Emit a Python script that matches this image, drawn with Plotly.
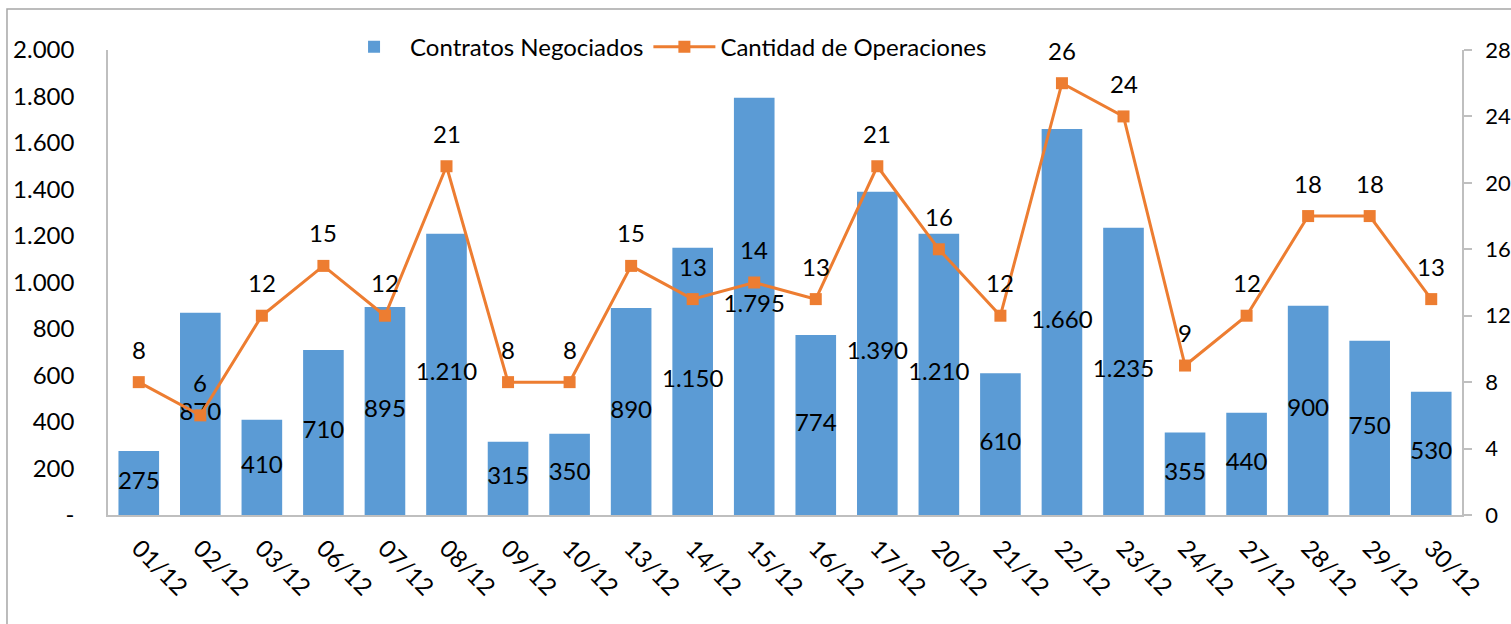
import plotly.graph_objects as go

categories = ["01/12", "02/12", "03/12", "06/12", "07/12", "08/12", "09/12", "10/12",
              "13/12", "14/12", "15/12", "16/12", "17/12", "20/12", "21/12", "22/12",
              "23/12", "24/12", "27/12", "28/12", "29/12", "30/12"]
contratos = [275, 870, 410, 710, 895, 1210, 315, 350, 890, 1150, 1795, 774,
             1390, 1210, 610, 1660, 1235, 355, 440, 900, 750, 530]
operaciones = [8, 6, 12, 15, 12, 21, 8, 8, 15, 13, 14, 13,
               21, 16, 12, 26, 24, 9, 12, 18, 18, 13]
left_ticks = [0, 200, 400, 600, 800, 1000, 1200, 1400, 1600, 1800, 2000]
left_ticktext = ["-", "200", "400", "600", "800", "1.000", "1.200", "1.400", "1.600", "1.800", "2.000"]
right_ticks = [0, 4, 8, 12, 16, 20, 24, 28]

FONT = "Lato, 'Noto Sans', sans-serif"
FS = 24
BLUE = "#5B9BD5"
ORANGE = "#ED7D31"
AXIS = "#BFBFBF"

fig = go.Figure()
fig.add_trace(go.Bar(
    x=categories, y=contratos, name="Contratos Negociados",
    marker=dict(color=BLUE, line=dict(width=0)), yaxis="y",
))
fig.add_trace(go.Scatter(
    x=categories, y=operaciones, name="Cantidad de Operaciones",
    mode="lines+markers", yaxis="y2",
    line=dict(color=ORANGE, width=3),
    marker=dict(symbol="square", size=12, color=ORANGE),
))
# bar value labels, centred in each bar
fig.add_trace(go.Scatter(
    x=categories, y=[v / 2 for v in contratos], yaxis="y",
    mode="text", text=[f"{v:,}".replace(",", ".") for v in contratos],
    textposition="middle center", textfont=dict(family=FONT, size=FS, color="black"),
    showlegend=False, hoverinfo="skip",
))

annotations = []
for c, v in zip(categories, operaciones):
    annotations.append(dict(
        x=c, y=v, xref="x", yref="y2", text=str(v), showarrow=False,
        yshift=33, font=dict(family=FONT, size=FS, color="black"),
    ))

fig.update_layout(
    width=1511, height=624,
    margin=dict(l=108, r=49, t=50, b=109, autoexpand=False),
    paper_bgcolor="white", plot_bgcolor="white",
    font=dict(family=FONT, size=FS, color="black"),
    bargap=0.34,
    showlegend=True,
    legend=dict(orientation="h", x=0.1699, y=1.006, xanchor="left", yanchor="middle",
                bgcolor="rgba(0,0,0,0)", font=dict(family=FONT, size=FS),
                itemwidth=62, tracegroupgap=0),
    xaxis=dict(type="category", range=[-0.5, len(categories) - 0.5], tickangle=45,
               showline=True, linecolor=AXIS, linewidth=1.5, automargin=False,
               ticks="", showgrid=False, ticklabelstandoff=8, tickfont=dict(size=FS)),
    yaxis=dict(range=[0, 2000], tickvals=left_ticks, ticktext=left_ticktext,
               showline=True, linecolor=AXIS, linewidth=1.5, showgrid=False, automargin=False,
               zeroline=False, ticks="", ticklabelstandoff=27, tickfont=dict(size=FS)),
    yaxis2=dict(range=[0, 28], tickvals=right_ticks, overlaying="y", side="right",
                showline=True, linecolor=AXIS, linewidth=1.5, showgrid=False, automargin=False,
                zeroline=False, ticks="outside", ticklen=8, tickcolor=AXIS, tickwidth=1.5,
                ticklabelstandoff=9, tickfont=dict(size=22)),
    annotations=annotations,
    shapes=[dict(type="rect", xref="paper", yref="paper", x0=-0.0746, x1=1.2,
                 y0=-0.5, y1=1.0882, line=dict(color="#A6A6A6", width=1.5), layer="below")],
)

fig.write_html("out.html", config={"displayModeBar": False},
               post_script="document.body.style.margin='0px';document.body.style.overflow='hidden';")
